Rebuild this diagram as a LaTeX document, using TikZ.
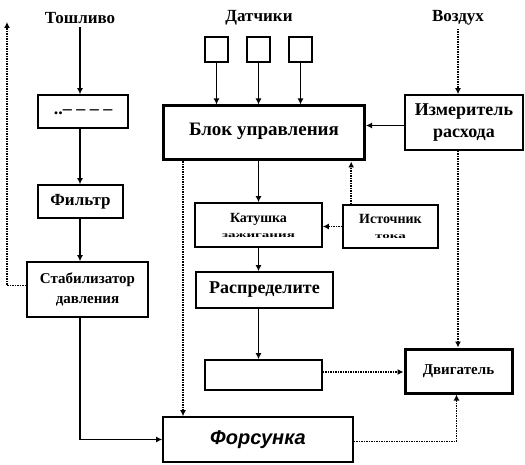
\documentclass[tikz,border=0pt]{standalone}
\usepackage{fontspec}
\setmainfont{Liberation Serif}
\setsansfont{Liberation Sans}
\usetikzlibrary{arrows.meta}
\usetikzlibrary{calc,positioning}

\begin{document}
\begin{tikzpicture}[x=1pt,y=-1pt,
    bloc/.style={draw,line width=1.6pt,align=center,inner sep=1pt,
      font=\fontsize{17}{19}\selectfont\bfseries},
    gros/.style={bloc,line width=3pt},
    titre/.style={font=\fontsize{17}{19}\selectfont\bfseries},
    fleche/.style={-{Latex[length=6pt,width=6pt]},line width=1.5pt},
    pointille/.style={fleche,densely dotted}]
  \useasboundingbox (0,0) rectangle (525,465);

  % Titres
  \node[titre] (toplivo) at (80,18) {Тошливо};
  \node[titre] (datchiki) at (259,18) {Датчики};
  \node[titre] (vozduh) at (458,18) {Воздух};

  % Blocs
  \node[bloc,minimum width=90,minimum height=33,font=\fontsize{18}{20}\selectfont\bfseries]
    (pompe) at (83,111.5) {\raisebox{-7pt}{..– – – –}};
  \node[bloc,minimum width=85,minimum height=33] (filtre) at (80.5,201.5) {Фильтр};
  \node[bloc,minimum width=121,minimum height=55,font=\fontsize{15}{20}\selectfont\bfseries]
    (stab) at (87.5,289.5) {Стабилизатор\\давления};
  \foreach \i/\x in {1/216.5,2/258.5,3/300.5}
    \node[bloc,line width=1.3pt,minimum width=23,minimum height=25] (capt\i) at (\x,49.5) {};
  \node[gros,minimum width=201,minimum height=54,font=\fontsize{19}{21}\selectfont\bfseries]
    (ecu) at (264,133) {\raisebox{8pt}{Блок управления}};
  \node[bloc,minimum width=118,minimum height=55,font=\fontsize{18}{22}\selectfont\bfseries]
    (mesure) at (464,122.5) {Измеритель\\расхода};
  \node[bloc,minimum width=127,minimum height=44,font=\fontsize{14}{15}\selectfont\bfseries]
    (bobine) at (258.5,225) {Катушка\\\scalebox{1.5}[0.8]{\fontsize{10}{10}\selectfont зажигания}};
  \node[bloc,minimum width=95,minimum height=43,font=\fontsize{14}{15}\selectfont\bfseries]
    (source) at (390.5,226.5) {Источник\\\scalebox{1.5}[0.8]{\fontsize{10}{10}\selectfont тока}};
  \node[bloc,minimum width=137,minimum height=36,font=\fontsize{18}{20}\selectfont\bfseries]
    (distrib) at (264.5,290) {Распределите};
  \node[bloc,minimum width=117,minimum height=30] (vide) at (263.5,375) {};
  \node[gros,minimum width=107,minimum height=44,font=\fontsize{15}{17}\selectfont\bfseries]
    (moteur) at (458.5,371) {Двигатель};
  \node[bloc,minimum width=190,minimum height=45,
    font=\fontsize{20}{22}\selectfont\sffamily\bfseries\itshape]
    (injecteur) at (258,439.5) {\raisebox{-8pt}{Форсунка}};

  % Carburant
  \draw[fleche] (toplivo.south) -- (toplivo.south |- pompe.north);
  \draw[fleche] (toplivo |- pompe.south) -- (toplivo |- filtre.north);
  \draw[fleche] (toplivo |- filtre.south) -- (toplivo |- stab.north);
  \draw[fleche] (toplivo |- stab.south) |- (injecteur.west);
  \coordinate (retour) at (7,22);
  \draw[pointille] ([yshift=4pt]stab.west) -| (retour);

  % Capteurs et air
  \foreach \i in {1,2,3}
    \draw[fleche] (capt\i.south) -- (capt\i.south |- ecu.north);
  \draw[pointille] (vozduh.south) -- (vozduh.south |- mesure.north);
  \draw[fleche] ([yshift=-3pt]mesure.west) -- ([yshift=-3pt]mesure.west -| ecu.east);
  \draw[pointille] (vozduh |- mesure.south) -- (vozduh |- moteur.north);

  % Allumage
  \draw[fleche] (bobine.north |- ecu.south) -- (bobine.north);
  \draw[pointille] (source.west) -- (source.west -| bobine.east);
  \draw[pointille] ([xshift=9pt]source.north west) -- ([xshift=9pt]source.north west |- ecu.south);
  \draw[fleche] (bobine.south) -- (bobine.south |- distrib.north);
  \draw[fleche] (bobine.south |- distrib.south) -- (bobine.south |- vide.north);
  \draw[pointille] ([yshift=3pt]vide.east) -- ([yshift=3pt]vide.east -| moteur.west);

  % Injection
  \draw[pointille] ([xshift=21pt]ecu.south west) -- ([xshift=21pt]ecu.south west |- injecteur.north);
  \draw[pointille] ([yshift=-2pt]injecteur.east) -| ([xshift=-2pt]moteur.south);
\end{tikzpicture}
\end{document}
